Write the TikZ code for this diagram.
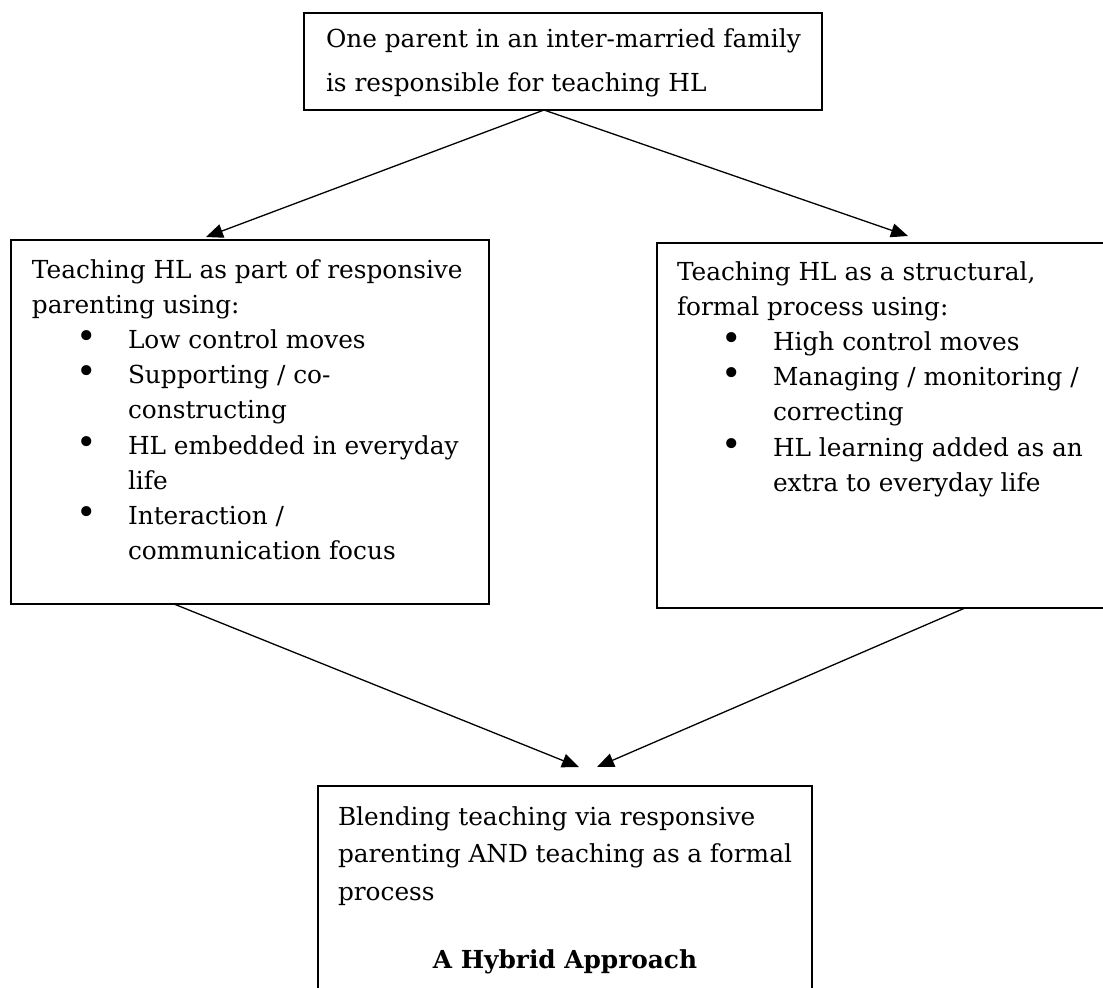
\documentclass[tikz,border=0pt]{standalone}
\usepackage{fontspec}
\setmainfont{DejaVu Serif}
\usepackage{graphicx}
\usetikzlibrary{arrows.meta,calc}

\newlength\pxu
\setlength\pxu{0.5pt}
\newcommand\midfs{\fontsize{12.4pt}{17.6pt}\selectfont}
\newcommand\bitem[1]{\par\hangindent=48pt\hangafter=1\noindent\makebox[48pt][l]{\hspace{27.5pt}\makebox[0pt][c]{\scalebox{1.4}{\textbullet}}}#1}

\tikzset{
  boxframe/.style={draw, line width=0.85pt, rectangle, inner sep=0pt, outer sep=0pt, anchor=north west},
  boxtext/.style={inner sep=0pt, outer sep=0pt, anchor=base west},
  conn/.style={line width=0.65pt, -{Triangle[length=8.5pt,width=7pt]}},
}

\begin{document}
\begin{tikzpicture}[x=0.5pt, y=-0.5pt]
\clip (0,0) rectangle (1103,987);

% boxes
\node[boxframe, minimum width=518\pxu, minimum height=97\pxu] (top) at (304,13) {};
\node[boxframe, minimum width=478\pxu, minimum height=364\pxu] (left) at (11,240) {};
\node[boxframe, minimum width=500\pxu, minimum height=365\pxu] (right) at (657,243) {};
\node[boxframe, minimum width=494\pxu, minimum height=400\pxu] (bot) at (318,786) {};

% texts
\node[boxtext] (toptext) at ($(top.north west)+(22,34)$) {\parbox[t]{490\pxu}{\fontsize{12.4pt}{22pt}\selectfont
  One parent in an inter-married family\\
  is responsible for teaching HL}};

\node[boxtext] (lefttext) at ($(left.north west)+(21,38)$) {\parbox[t]{450\pxu}{\midfs
  Teaching HL as part of responsive\\
  parenting using:
  \bitem{Low control moves}
  \bitem{Supporting / co-\\constructing}
  \bitem{HL embedded in everyday\\life}
  \bitem{Interaction /\\communication focus}}};

\node[boxtext] (righttext) at ($(right.north west)+(20,37)$) {\parbox[t]{420\pxu}{\midfs
  Teaching HL as a structural,\\
  formal process using:
  \bitem{High control moves}
  \bitem{Managing / monitoring /\\correcting}
  \bitem{HL learning added as an\\extra to everyday life}}};

\node[boxtext] (bottext) at ($(bot.north west)+(20,39)$) {\parbox[t]{454\pxu}{\fontsize{12.4pt}{18.75pt}\selectfont
  Blending teaching via responsive\\
  parenting AND teaching as a formal\\
  process\par
  \vspace{15.25pt}\centerline{\bfseries A Hybrid Approach}}};

% connector end points
\coordinate (topout) at ($(top.south west)+(240,0)$);
\coordinate (leftin) at ($(left.north west)+(195,-3)$);
\coordinate (rightin) at ($(right.north west)+(251,-7)$);
\coordinate (leftout) at ($(left.south west)+(163,0)$);
\coordinate (rightout) at ($(right.south west)+(308,0)$);
\coordinate (botinL) at ($(bot.north west)+(261,-19)$);
\coordinate (botinR) at ($(bot.north west)+(279,-19)$);

% connectors
\draw[conn] (topout) -- (leftin);
\draw[conn] (topout) -- (rightin);
\draw[conn] (leftout) -- (botinL);
\draw[conn] (rightout) -- (botinR);
\end{tikzpicture}
\end{document}
